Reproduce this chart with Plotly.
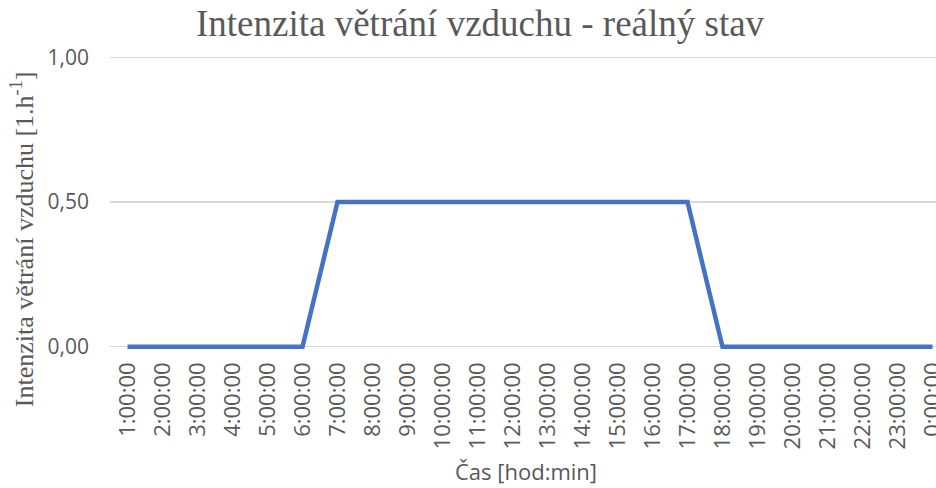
import plotly.graph_objects as go

# ---- data ----
categories = ["1:00:00", "2:00:00", "3:00:00", "4:00:00", "5:00:00", "6:00:00",
              "7:00:00", "8:00:00", "9:00:00", "10:00:00", "11:00:00", "12:00:00",
              "13:00:00", "14:00:00", "15:00:00", "16:00:00", "17:00:00", "18:00:00",
              "19:00:00", "20:00:00", "21:00:00", "22:00:00", "23:00:00", "0:00:00"]
values = [0, 0, 0, 0, 0, 0,
          0.5, 0.5, 0.5, 0.5, 0.5, 0.5,
          0.5, 0.5, 0.5, 0.5, 0.5, 0,
          0, 0, 0, 0, 0, 0]
y_ticks = [0, 0.5, 1.0]

title_text = "Intenzita větrání vzduchu - reálný stav"
ytitle_text = "Intenzita větrání vzduchu [1.h<sup>-1</sup>]"
xtitle_text = "Čas [hod:min]"

# ---- layout geometry (pixels) ----
W, H = 936, 488
L, R = 110, 0
TOP, BOT = 55.55, 351.35
plot_w = W - L - R
plot_h = BOT - TOP


def px_x(px):
    return (px - L) / plot_w


def px_y(py):
    return (BOT - py) / plot_h


GRAY = "#595959"

fig = go.Figure()
fig.add_trace(go.Scatter(
    x=categories, y=values, mode="lines",
    line=dict(color="#4472C4", width=4.5),
    hoverinfo="skip", showlegend=False,
))

fig.update_layout(
    width=W, height=H,
    margin=dict(l=L, r=R, t=TOP, b=H - BOT, pad=0, autoexpand=False),
    paper_bgcolor="white", plot_bgcolor="white",
    separators=", ",
    showlegend=False,
    xaxis=dict(
        type="category",
        range=[-0.5, 23.1],
        automargin=False,
        showgrid=False, zeroline=False, showline=False,
        ticks="", tickangle=-90,
        tickfont=dict(family="Open Sans", size=22, color=GRAY),
        ticklabelstandoff=6,
    ),
    yaxis=dict(
        range=[-0.015, 1.005],
        automargin=False,
        tickvals=y_ticks, tickformat=".2f",
        showgrid=True, gridcolor="#d9d9d9", gridwidth=1.3,
        zeroline=False, showline=False, ticks="",
        tickfont=dict(family="Open Sans", size=21, color=GRAY),
        ticklabelstandoff=20,
    ),
    annotations=[
        dict(text=title_text, xref="paper", yref="paper",
             x=px_x(480), y=px_y(22.5), xanchor="center", yanchor="middle",
             showarrow=False,
             font=dict(family="Liberation Serif", size=37, color=GRAY)),
        dict(text=ytitle_text, xref="paper", yref="paper",
             x=px_x(23.3), y=px_y(239), xanchor="center", yanchor="middle",
             textangle=-90, showarrow=False,
             font=dict(family="Liberation Serif", size=26, color=GRAY)),
        dict(text=xtitle_text, xref="paper", yref="paper",
             x=px_x(526), y=px_y(471.5), xanchor="center", yanchor="middle",
             showarrow=False,
             font=dict(family="Open Sans", size=22, color=GRAY)),
    ],
)

fig.write_html(
    "out.html",
    config={"displayModeBar": False, "staticPlot": True},
    post_script="document.body.style.margin='0';document.body.style.overflow='hidden';",
)
